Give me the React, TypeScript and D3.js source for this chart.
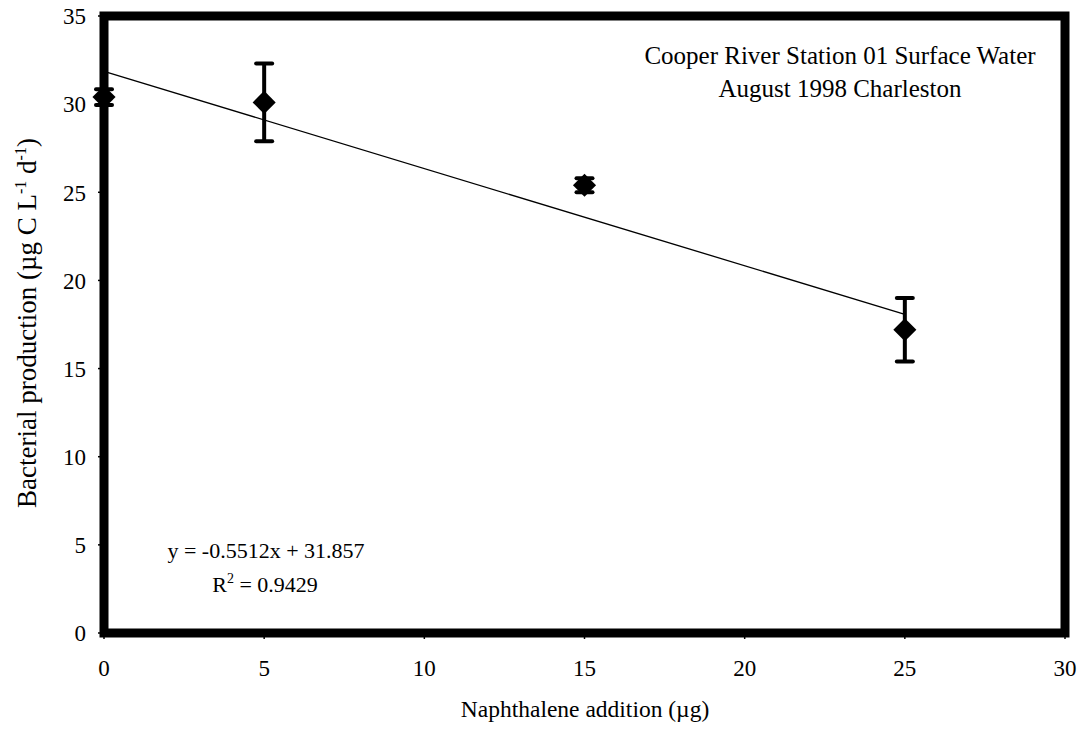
import * as d3 from "d3";

// naphthalene addition (µg) and bacterial production (µg C L-1 d-1)
const doses = [0, 5, 15, 25];
const production = [30.4, 30.1, 25.4, 17.2];
const errors = [0.45, 2.2, 0.4, 1.8];

const xTicks = [0, 5, 10, 15, 20, 25, 30];
const yTicks = [0, 5, 10, 15, 20, 25, 30, 35];

const slope = -0.5512;
const intercept = 31.857;

const W = 1082;
const H = 731;
const FONT = "'Liberation Serif', 'Times New Roman', serif";

export default function App() {
  const x = d3.scaleLinear().domain([0, 30]).range([104, 1065]);
  const y = d3.scaleLinear().domain([0, 35]).range([633, 16]);

  const fit = d3.line<number>()
    .x(d => x(d))
    .y(d => y(slope * d + intercept));

  const diamond = d3.symbol().type(d3.symbolDiamond2).size(340);

  return (
    <svg width={W} height={H} style={{ position: "absolute", left: 0, top: 0, background: "#fff" }}>
      {/* y ticks */}
      {yTicks.map(t => (
        <g key={"y" + t}>
          <line x1={x(0) - 6} x2={x(0)} y1={y(t)} y2={y(t)} stroke="#000" strokeWidth={1.5} />
          <text x={86} y={y(t)} dy="0.36em" textAnchor="end" fontFamily={FONT} fontSize={23}>{t}</text>
        </g>
      ))}
      {/* x ticks */}
      {xTicks.map(t => (
        <g key={"x" + t}>
          <line x1={x(t)} x2={x(t)} y1={y(0)} y2={y(0) + 6} stroke="#000" strokeWidth={1.5} />
          <text x={x(t)} y={676} textAnchor="middle" fontFamily={FONT} fontSize={23}>{t}</text>
        </g>
      ))}

      {/* regression line */}
      <path d={fit([0, 25]) ?? ""} fill="none" stroke="#000" strokeWidth={1.3} />

      {/* error bars and markers */}
      {doses.map((d, i) => {
        const cx = x(d);
        const top = y(production[i] + errors[i]);
        const bot = y(production[i] - errors[i]);
        return (
          <g key={"p" + d}>
            <line x1={cx} x2={cx} y1={top} y2={bot} stroke="#000" strokeWidth={4} />
            <line x1={cx - 8} x2={cx + 8} y1={top} y2={top} stroke="#000" strokeWidth={4} strokeLinecap="round" />
            <line x1={cx - 8} x2={cx + 8} y1={bot} y2={bot} stroke="#000" strokeWidth={4} strokeLinecap="round" />
            <path d={diamond() ?? ""} transform={`translate(${cx},${y(production[i])})`} fill="#000" />
          </g>
        );
      })}

      {/* plot frame */}
      <rect x={x(0)} y={y(35)} width={x(30) - x(0)} height={y(0) - y(35)} fill="none" stroke="#000" strokeWidth={9} />

      {/* annotations */}
      <text x={840} y={64} textAnchor="middle" fontFamily={FONT} fontSize={25}>Cooper River Station 01 Surface Water</text>
      <text x={840} y={97} textAnchor="middle" fontFamily={FONT} fontSize={25}>August 1998 Charleston</text>
      <text x={266} y={558} textAnchor="middle" fontFamily={FONT} fontSize={22}>y = -0.5512x + 31.857</text>
      <text x={265} y={592} textAnchor="middle" fontFamily={FONT} fontSize={22}>
        R<tspan dy={-9} fontSize={14}>2</tspan><tspan dy={9}> = 0.9429</tspan>
      </text>

      {/* axis titles */}
      <text x={585} y={717} textAnchor="middle" fontFamily={FONT} fontSize={23.5}>Naphthalene addition (µg)</text>
      <text transform="translate(36,323) rotate(-90)" textAnchor="middle" fontFamily={FONT} fontSize={27}>
        Bacterial production (µg C L<tspan dy={-10} fontSize={16}>-1</tspan><tspan dy={10}> d</tspan><tspan dy={-10} fontSize={16}>-1</tspan><tspan dy={10}>)</tspan>
      </text>
    </svg>
  );
}
